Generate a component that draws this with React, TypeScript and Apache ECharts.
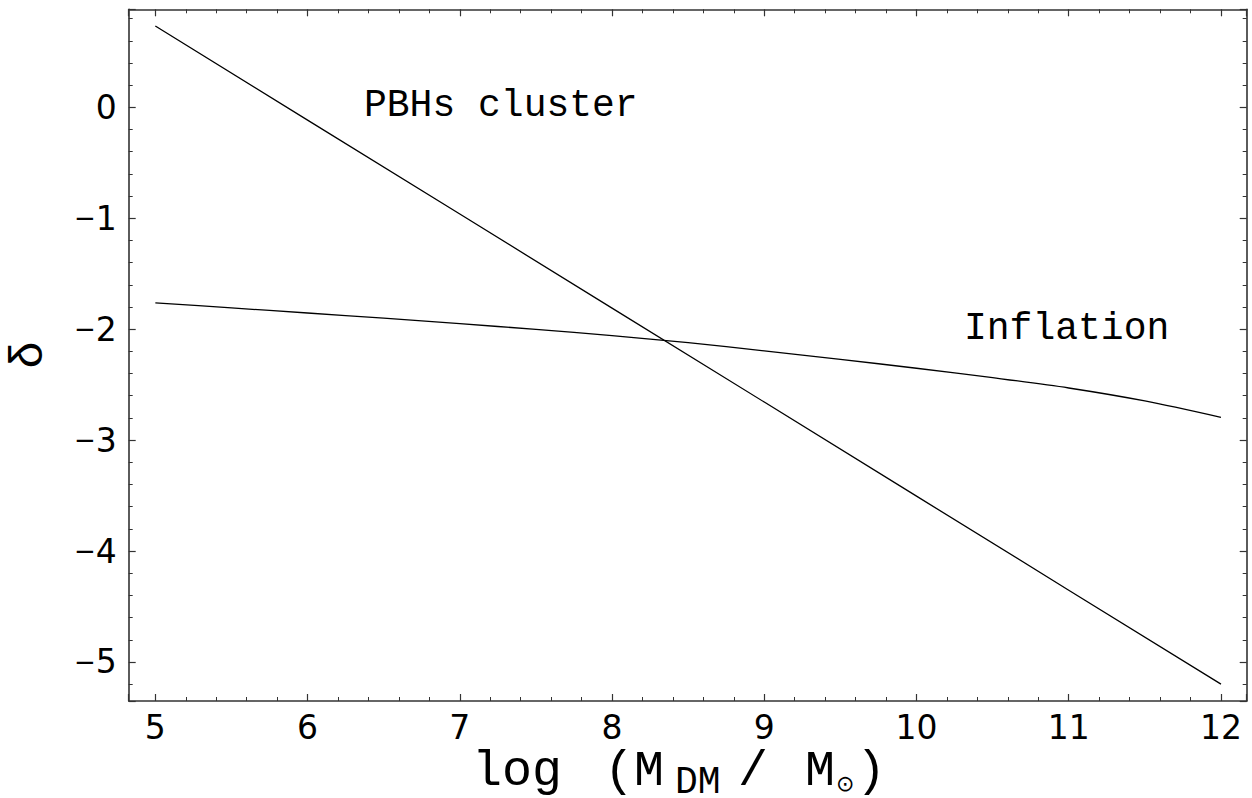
import React, { useEffect, useRef } from "react";
import * as echarts from "echarts";

// x = log(M_DM / M_sun)
const pbhX = [5, 6, 7, 8, 9, 10, 11, 12];
const pbhY = [0.733, -0.115, -0.962, -1.81, -2.657, -3.505, -4.353, -5.2];

const inflX = [5, 5.5, 6, 6.5, 7, 7.5, 8, 8.5, 9, 9.5, 10, 10.5, 11, 11.5, 12];
const inflY = [-1.762, -1.808, -1.854, -1.901, -1.95, -2.002, -2.058, -2.122, -2.195, -2.272, -2.352, -2.437, -2.53, -2.647, -2.795];

const xRange = [4.825, 12.169];
const yRange = [-5.352, 0.884];

const annotations = ["PBHs cluster", "Inflation"];

const MONO = "'Liberation Mono', 'Courier New', monospace";
const SANS = "'DejaVu Sans', sans-serif";
const FRAME = "#333";

function fmtY(v: number): string {
  const r = Math.round(v);
  if (Math.abs(v - r) > 1e-6) return "";
  return r < 0 ? "{m|\u2212}" + Math.abs(r) : String(r);
}

function fmtX(v: number): string {
  const r = Math.round(v);
  if (Math.abs(v - r) > 1e-6) return "";
  return String(r);
}

export default function App() {
  const ref = useRef<HTMLDivElement>(null);
  useEffect(() => {
    if (!ref.current) return;
    const chart = echarts.init(ref.current, null, { renderer: "svg" });

    const tick = { show: true, inside: true, length: 7, lineStyle: { color: FRAME, width: 1.2 } };
    const minor = { show: true, splitNumber: 5, length: 4, lineStyle: { color: FRAME, width: 1 } };
    const line = { show: true, lineStyle: { color: FRAME, width: 1.6 } };

    const xBase = {
      type: "value",
      min: xRange[0],
      max: xRange[1],
      splitNumber: 7,
      axisLine: { ...line, onZero: false },
      axisTick: tick,
      minorTick: minor,
      splitLine: { show: false },
      minorSplitLine: { show: false },
    };
    const yBase = {
      type: "value",
      min: yRange[0],
      max: yRange[1],
      splitNumber: 6,
      axisLine: { ...line, onZero: false },
      axisTick: tick,
      minorTick: minor,
      splitLine: { show: false },
      minorSplitLine: { show: false },
    };

    const big = (text: string, x: number, y: number) => ({
      type: "text",
      x,
      y,
      style: { text, font: `50px ${MONO}`, fill: "#000", verticalAlign: "middle", lineHeight: 40 },
    });

    chart.setOption({
      animation: false,
      backgroundColor: "#fff",
      grid: { left: 128.7, top: 9.3, right: 5.3, bottom: 97, containLabel: false, outerBoundsMode: "none" },
      xAxis: [
        {
          ...xBase,
          position: "bottom",
          axisLabel: {
            show: true,
            margin: 10,
            fontSize: 33,
            fontFamily: SANS,
            color: "#000",
            showMinLabel: false,
            showMaxLabel: false,
            formatter: fmtX,
          },
        },
        { ...xBase, position: "top", axisLabel: { show: false } },
      ],
      yAxis: [
        {
          ...yBase,
          position: "left",
          axisLabel: {
            show: true,
            margin: 12,
            fontSize: 33,
            fontFamily: SANS,
            color: "#000",
            showMinLabel: false,
            showMaxLabel: false,
            formatter: fmtY,
            rich: { m: { fontSize: 26, fontFamily: SANS, color: "#000" } },
          },
        },
        { ...yBase, position: "right", axisLabel: { show: false } },
      ],
      series: [
        {
          name: "PBHs cluster",
          type: "line",
          xAxisIndex: 0,
          yAxisIndex: 0,
          data: pbhX.map((x, i) => [x, pbhY[i]]),
          showSymbol: false,
          symbol: "none",
          lineStyle: { color: "#000", width: 1.3 },
        },
        {
          name: "Inflation",
          type: "line",
          xAxisIndex: 0,
          yAxisIndex: 0,
          data: inflX.map((x, i) => [x, inflY[i]]),
          showSymbol: false,
          symbol: "none",
          smooth: 0.3,
          lineStyle: { color: "#000", width: 1.3 },
        },
      ],
      graphic: [
        {
          type: "text",
          x: 364,
          y: 105,
          style: { text: annotations[0], font: `38px ${MONO}`, fill: "#000", align: "left", verticalAlign: "middle" },
        },
        {
          type: "text",
          x: 964,
          y: 328,
          style: { text: annotations[1], font: `38px ${MONO}`, fill: "#000", align: "left", verticalAlign: "middle" },
        },
        {
          type: "text",
          x: 30,
          y: 355,
          rotation: Math.PI / 2,
          style: { text: "δ", font: `46px ${MONO}`, fill: "#000", align: "center", verticalAlign: "middle" },
        },
        {
          type: "group",
          children: [
            big("log", 472, 771),
            big("(", 604, 771),
            big("M", 634, 771),
            {
              type: "text",
              x: 675,
              y: 782,
              style: { text: "DM", font: `38px ${MONO}`, fill: "#000", verticalAlign: "middle", lineHeight: 24 },
            },
            big("/", 738, 771),
            big("M", 805, 771),
            {
              type: "text",
              x: 836,
              y: 783,
              style: { text: "⊙", font: `22px ${SANS}`, fill: "#000", verticalAlign: "middle", lineHeight: 20 },
            },
            big(")", 856, 771),
          ],
        },
      ],
    });
    return () => chart.dispose();
  }, []);
  return <div ref={ref} style={{ position: "absolute", left: 0, top: 0, width: 1252, height: 798 }} />;
}
